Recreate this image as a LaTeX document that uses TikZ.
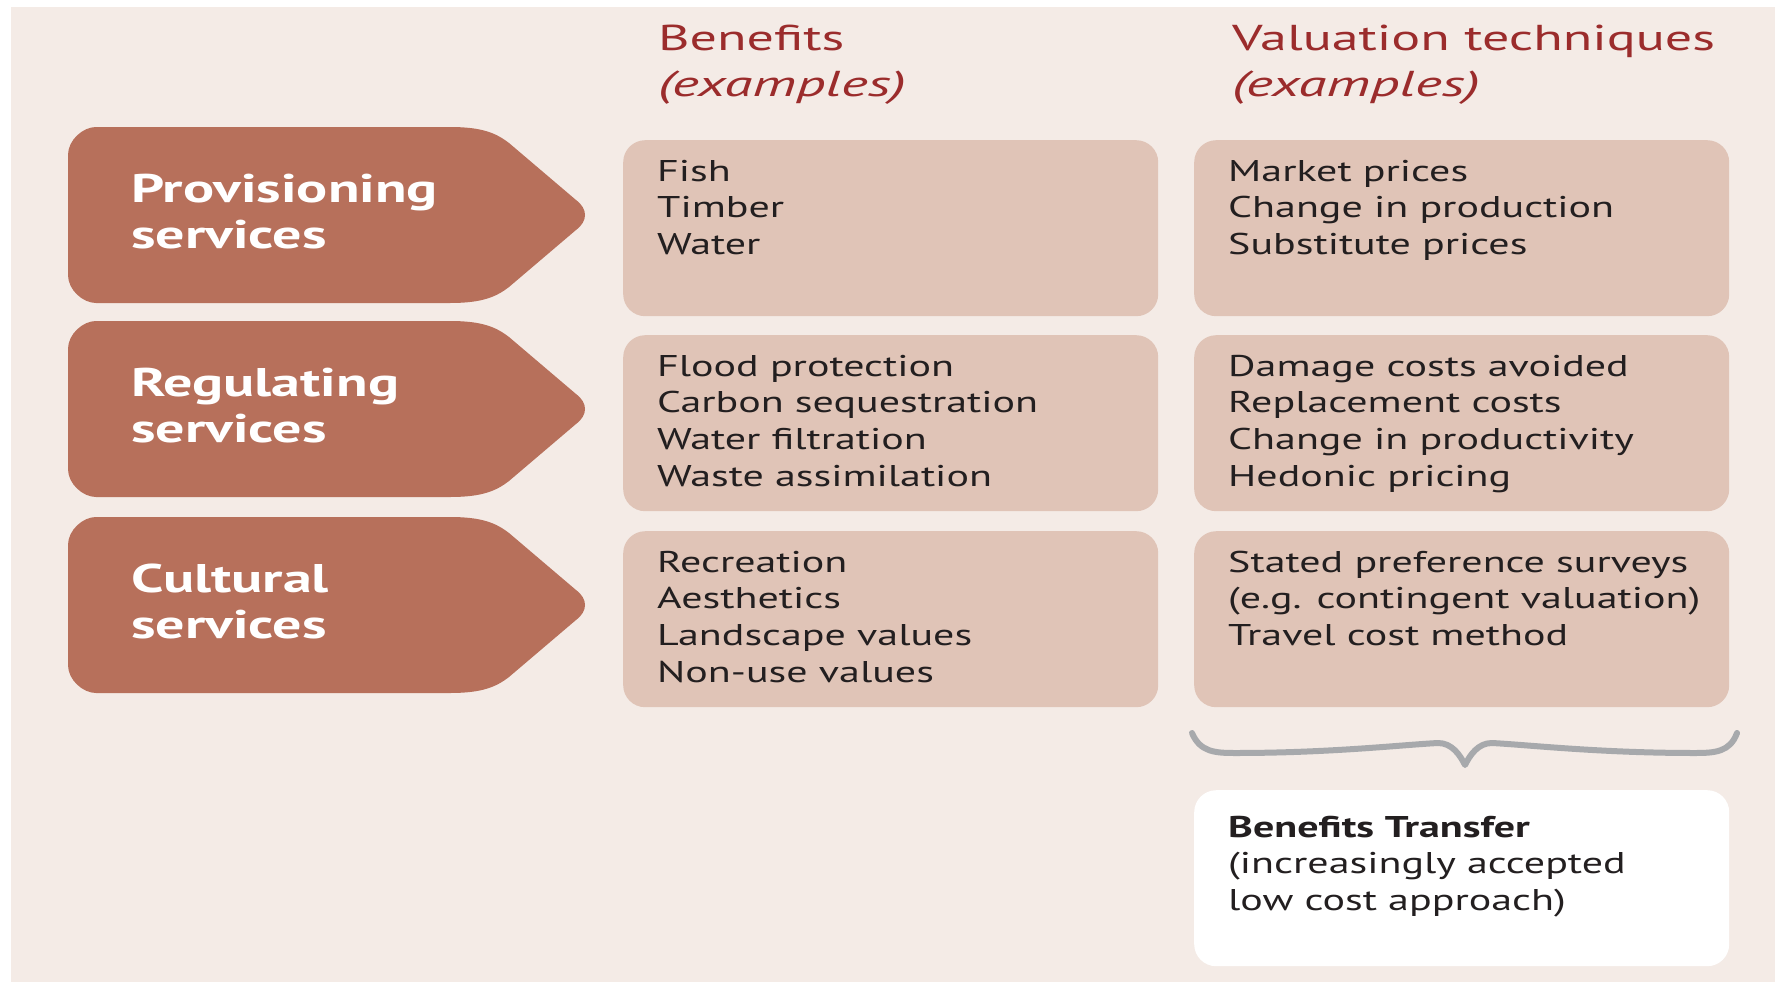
\documentclass[tikz,border=0pt]{standalone}
\usepackage{fontspec}
\setmainfont{PT Sans}[FakeStretch=1.4]
\newfontfamily\hdrfont{PT Sans}[FakeStretch=1.5]
\newfontfamily\hdritfont{PT Sans Italic}[FakeStretch=1.6]
\newfontfamily\svcfont{PT Sans}[FakeStretch=1.45]
\definecolor{bgcol}{HTML}{F4EBE6}
\definecolor{arrowcol}{HTML}{B7705B}
\definecolor{boxcol}{HTML}{E0C4B7}
\definecolor{hdrcol}{HTML}{9B2C2C}
\definecolor{txtcol}{HTML}{231F20}
\definecolor{bracecol}{HTML}{A7A9AC}
\newcommand\lns[1]{\begin{tabular}[t]{@{}l@{}}#1\end{tabular}}
\newcommand\svcarrow[1]{%
  \fill[arrowcol] (96,#1) -- (450,#1)
   .. controls (482,#1) and (496,#1+6) .. (509,#1+16)
   -- (576,#1+73) .. controls (588,#1+82) and (588,#1+94) .. (576,#1+103)
   -- (509,#1+160) .. controls (496,#1+170) and (482,#1+176) .. (450,#1+176)
   -- (96,#1+176) .. controls (83,#1+176) and (68,#1+163) .. (68,#1+148)
   -- (68,#1+28) .. controls (68,#1+13) and (83,#1) .. (96,#1) -- cycle;}
\begin{document}
\begin{tikzpicture}[x=1pt,y=-1pt,
  panel/.style={fill=boxcol, rounded corners=22, minimum width=535, minimum height=176, anchor=north west, inner sep=0, draw=none},
  whitepanel/.style={panel, fill=white},
  bodytext/.style={anchor=base west, inner sep=0, text=txtcol, font=\fontsize{30}{36.8}\selectfont},
  hdrtext/.style={anchor=base west, inner sep=0, text=hdrcol, font=\hdrfont\fontsize{36}{46}\selectfont},
  svctext/.style={anchor=base west, inner sep=0, text=white, font=\svcfont\bfseries\fontsize{40}{46}\selectfont},
  bracestyle/.style={draw=bracecol, line width=6, line cap=round, line join=round}
]
\useasboundingbox (0,0) rectangle (1775,982);
\fill[bgcol] (11,7) rectangle (1775,982);

% headers
\node[hdrtext] (hben) at (658,51) {\lns{Benefits\\\hdritfont (examples)}};
\node[hdrtext] (hval) at (1232,51) {\lns{Valuation techniques\\\hdritfont (examples)}};

% service arrows
\svcarrow{127}
\svcarrow{321}
\svcarrow{517}
\node[svctext] (sprov) at (131,202) {\lns{Provisioning\\services}};
\node[svctext] (sreg) at (131,396) {\lns{Regulating\\services}};
\node[svctext] (scult) at (131,592) {\lns{Cultural\\services}};

% benefit panels
\node[panel] (b1) at (623,140) {};
\node[panel] (b2) at (623,335) {};
\node[panel] (b3) at (623,531) {};
\node[bodytext] (tb1) at (657,181) {\lns{Fish\\Timber\\Water}};
\node[bodytext] (tb2) at (657,376) {\lns{Flood protection\\Carbon sequestration\\Water filtration\\Waste assimilation}};
\node[bodytext] (tb3) at (657,572) {\lns{Recreation\\Aesthetics\\Landscape values\\Non-use values}};

% valuation panels
\node[panel] (v1) at (1194,140) {};
\node[panel] (v2) at (1194,335) {};
\node[panel] (v3) at (1194,531) {};
\node[bodytext] (tv1) at (1228,181) {\lns{Market prices\\Change in production\\Substitute prices}};
\node[bodytext] (tv2) at (1228,376) {\lns{Damage costs avoided\\Replacement costs\\Change in productivity\\Hedonic pricing}};
\node[bodytext] (tv3) at (1228,572) {\lns{Stated preference surveys\\(e.g. contingent valuation)\\Travel cost method}};

% brace
\coordinate (brL) at (1192,733);
\coordinate (brR) at (1737,733);
\coordinate (brT) at (1465,765);
\draw[bracestyle] (brL) .. controls (1200,752) and (1215,753) .. (1235,753)
  .. controls (1330,753) and (1400,745) .. (1438,743)
  .. controls (1452,743) and (1460,755) .. (brT)
  .. controls (1470,755) and (1478,743) .. (1492,743)
  .. controls (1530,745) and (1600,753) .. (1695,753)
  .. controls (1715,753) and (1730,752) .. (brR);

% benefits transfer
\node[whitepanel] (bt) at (1194,790) {};
\node[bodytext] (tbt) at (1228,837) {\lns{\bfseries Benefits Transfer\\(increasingly accepted\\low cost approach)}};
\end{tikzpicture}
\end{document}
